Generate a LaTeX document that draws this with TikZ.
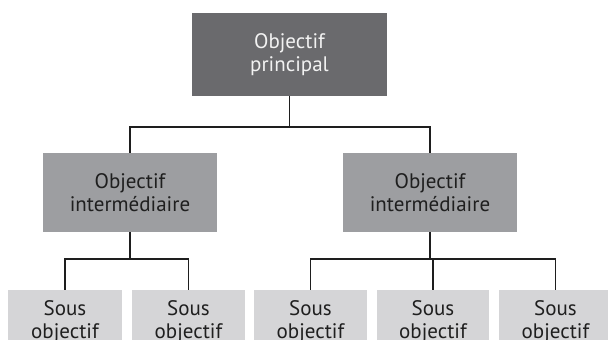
\documentclass[tikz,border=0pt]{standalone}
\usepackage{fontspec}
\setmainfont{PT Sans}
\definecolor{topfill}{HTML}{6A6A6D}
\definecolor{midfill}{HTML}{9D9EA1}
\definecolor{lowfill}{HTML}{D5D5D7}
\definecolor{inkline}{HTML}{1E1E1E}
\begin{document}
\begin{tikzpicture}[x=1pt,y=-1pt,
  box/.style={rectangle, inner sep=0pt, align=center, font=\fontsize{21}{23}\selectfont},
  topbox/.style={box, fill=topfill, text=white!95!black, minimum width=195pt, minimum height=83pt},
  midbox/.style={box, fill=midfill, text=black!88, minimum width=174pt, minimum height=79pt},
  lowbox/.style={box, fill=lowfill, text=black!88, minimum height=60pt, text depth=0pt},
  link/.style={draw=inkline, line width=1.1pt}]
\useasboundingbox (0,0) rectangle (608,340);
\clip (0,0) rectangle (608,340);

% top level
\node[topbox] (top) at (289.5,54.5) {Objectif\\principal};

% intermediate level
\node[midbox] (midL) at (130,192.5) {Objectif\\intermédiaire};
\node[midbox] (midR) at (430,192.5) {Objectif\\intermédiaire};

% lowest level
\node[lowbox, minimum width=114pt] (b1) at (65,320)    {Sous\\objectif};
\node[lowbox, minimum width=113pt] (b2) at (188.5,320) {Sous\\objectif};
\node[lowbox, minimum width=113pt] (b3) at (310.5,320) {Sous\\objectif};
\node[lowbox, minimum width=112pt] (b4) at (433,320)   {Sous\\objectif};
\node[lowbox, minimum width=113pt] (b5) at (555.5,320) {Sous\\objectif};

% junction points of the branches
\coordinate (j0) at (289.5,127);
\coordinate (jL) at (130,259);
\coordinate (jR) at (430,259);

% connectors
\draw[link] (top.south) -- (j0);
\draw[link] (midL.north) |- (j0) -| (midR.north);

\draw[link] (midL.south) -- (jL);
\draw[link] (b1.north) |- (jL) -| (b2.north);

\draw[link] (midR.south) -- (jR);
\draw[link] (b3.north) |- (jR) -| (b5.north);
\draw[link] (b4.north) -- (b4.north |- jR);
\end{tikzpicture}
\end{document}
